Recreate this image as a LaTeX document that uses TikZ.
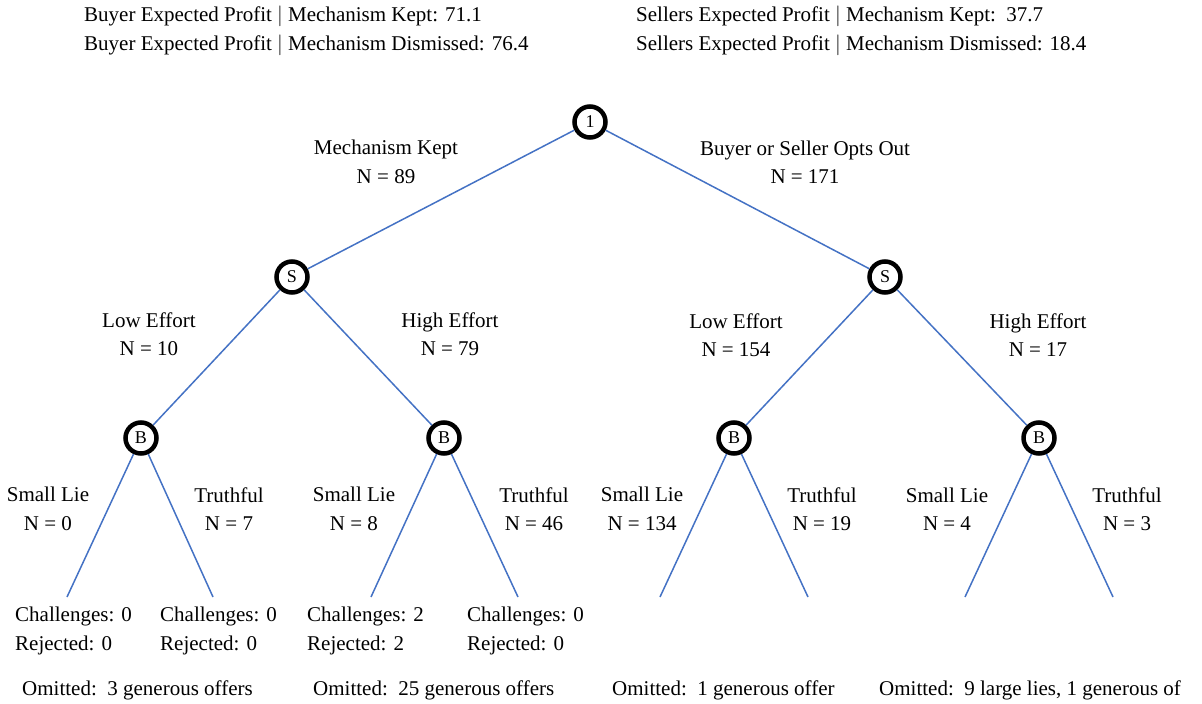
\documentclass[tikz,border=0pt]{standalone}
\usepackage{fontspec}
\setmainfont{Liberation Serif}
\usepackage{tikz}
\definecolor{edgeblue}{RGB}{68,114,196}

\begin{document}
\begin{tikzpicture}[x=1pt, y=-1pt, main/.style = {draw, circle, line width=4.5, minimum size=31, inner sep=0, font=\fontsize{18}{18}\selectfont}, edge/.style={draw=edgeblue, line width=1.5}, lbl/.style={align=center, inner sep=0, font=\fontsize{21}{28.5}\selectfont}, leaf/.style={anchor=west, align=left, inner sep=0, font=\fontsize{21}{28.5}\selectfont}]
        \useasboundingbox (0,0) rectangle (1202,704);
        % decision nodes
        \node[main] (1) at (590,122) {1};
        \node[main] (S1) at (292,277) {S};
        \node[main] (S2) at (885,277) {S};
        \node[main] (B1) at (141,438) {B};
        \node[main] (B2) at (444,438) {B};
        \node[main] (B3) at (734,438) {B};
        \node[main] (B4) at (1039,438) {B};
        \coordinate (e1) at (67,597);
        \coordinate (e2) at (213,597);
        \coordinate (e3) at (371,597);
        \coordinate (e4) at (518,597);
        \coordinate (e5) at (660,597);
        \coordinate (e6) at (808,597);
        \coordinate (e7) at (965,597);
        \coordinate (e8) at (1113,597);
        \draw[edge] (1) -- (S1);
        \draw[edge] (1) -- (S2);
        \draw[edge] (S1) -- (B1);
        \draw[edge] (S1) -- (B2);
        \draw[edge] (S2) -- (B3);
        \draw[edge] (S2) -- (B4);
        \draw[edge] (B1) -- (e1);
        \draw[edge] (B1) -- (e2);
        \draw[edge] (B2) -- (e3);
        \draw[edge] (B2) -- (e4);
        \draw[edge] (B3) -- (e5);
        \draw[edge] (B3) -- (e6);
        \draw[edge] (B4) -- (e7);
        \draw[edge] (B4) -- (e8);
        % branch labels
        \node[lbl] (k) at (386,162) {Mechanism Kept\\N = 89};
        \node[lbl] (o) at (805,162) {Buyer or Seller Opts Out\\N = 171};
        \node[lbl] (l1) at (149,334) {Low Effort\\N = 10};
        \node[lbl] (h1) at (450,334) {High Effort\\N = 79};
        \node[lbl] (l2) at (736,335) {Low Effort\\N = 154};
        \node[lbl] (h2) at (1038,335) {High Effort\\N = 17};
        \node[lbl] (s1) at (48,509) {Small Lie\\N = 0};
        \node[lbl] (t1) at (229,509) {Truthful\\N = 7};
        \node[lbl] (s2) at (354,509) {Small Lie\\N = 8};
        \node[lbl] (t2) at (534,509) {Truthful\\N = 46};
        \node[lbl] (s3) at (642,509) {Small Lie\\N = 134};
        \node[lbl] (t3) at (822,509) {Truthful\\N = 19};
        \node[lbl] (s4) at (947,509) {Small Lie\\N = 4};
        \node[lbl] (t4) at (1127,509) {Truthful\\N = 3};
        % outcomes
        \node[leaf] (c1) at (15,631) {Challenges: 0\\Rejected: 0};
        \node[leaf] (c2) at (160,631) {Challenges: 0\\Rejected: 0};
        \node[leaf] (c3) at (307,631) {Challenges: 2\\Rejected: 2};
        \node[leaf] (c4) at (467,631) {Challenges: 0\\Rejected: 0};
        \node[leaf] (m1) at (22,690) {Omitted:\ \ 3 generous offers};
        \node[leaf] (m2) at (313,690) {Omitted:\ \ 25 generous offers};
        \node[leaf] (m3) at (612,690) {Omitted:\ \ 1 generous offer};
        \node[leaf] (m4) at (879,690) {Omitted:\ \ 9 large lies, 1 generous of};
        % expected profits
        \node[leaf] (bp) at (84,31) {Buyer Expected Profit $|$ Mechanism Kept: 71.1\\Buyer Expected Profit $|$ Mechanism Dismissed: 76.4};
        \node[leaf] (sp) at (636,31) {Sellers Expected Profit $|$ Mechanism Kept:\ \ 37.7\\Sellers Expected Profit $|$ Mechanism Dismissed: 18.4};
    \end{tikzpicture}
\end{document}
